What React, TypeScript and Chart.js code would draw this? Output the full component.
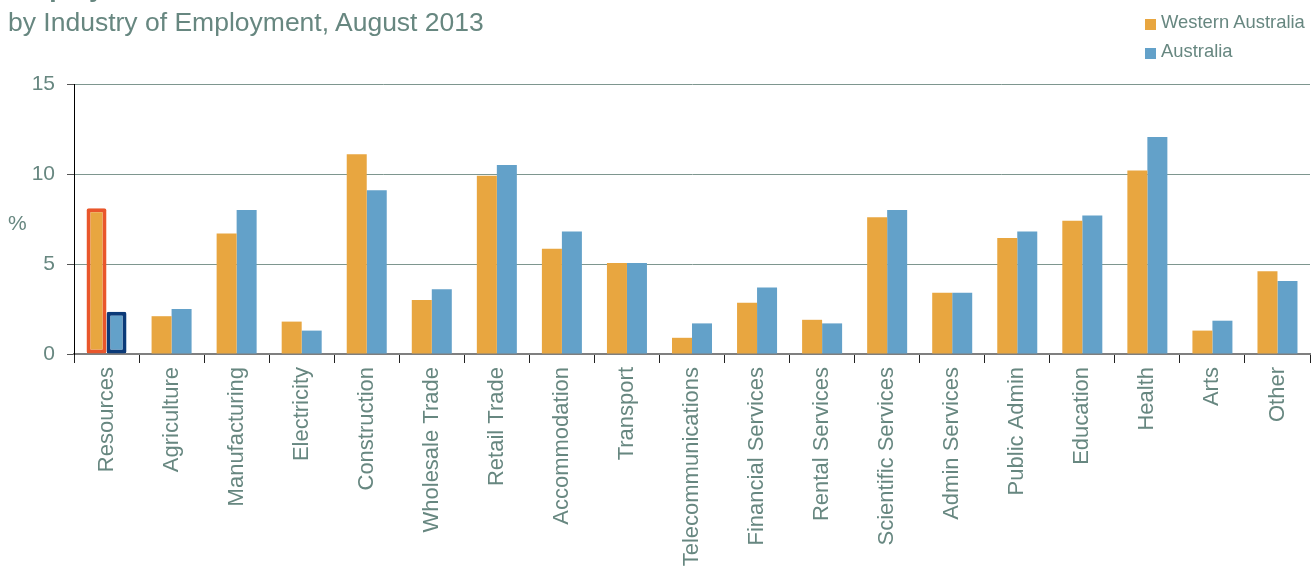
import React, { useEffect, useRef } from "react";
import { Chart, registerables } from "chart.js";

Chart.register(...registerables);

const categories = [
  "Resources", "Agriculture", "Manufacturing", "Electricity", "Construction",
  "Wholesale Trade", "Retail Trade", "Accommodation", "Transport",
  "Telecommunications", "Financial Services", "Rental Services",
  "Scientific Services", "Admin Services", "Public Admin", "Education",
  "Health", "Arts", "Other",
];
const westernAustralia = [8.1, 2.1, 6.7, 1.8, 11.1, 3.0, 9.9, 5.85, 5.05, 0.9, 2.85, 1.9, 7.6, 3.4, 6.45, 7.4, 10.2, 1.3, 4.6];
const australia = [2.35, 2.5, 8.0, 1.3, 9.1, 3.6, 10.5, 6.8, 5.05, 1.7, 3.7, 1.7, 8.0, 3.4, 6.8, 7.7, 12.05, 1.85, 4.05];
const yTicks = [0, 5, 10, 15];

const ORANGE = "#e8a640";
const BLUE = "#63a1c9";
const TEXT = "#678780";
const FONT = "'Liberation Sans', Arial, sans-serif";

export default function App() {
  const ref = useRef<HTMLCanvasElement>(null);
  useEffect(() => {
    if (!ref.current) return;
    const chart = new Chart(ref.current, {
      type: "bar",
      data: {
        labels: categories,
        datasets: [
          {
            label: "Western Australia",
            data: westernAustralia,
            backgroundColor: ORANGE,
            borderColor: westernAustralia.map((_, i) => (i === 0 ? "#e9562b" : ORANGE)),
            borderWidth: westernAustralia.map((_, i) => (i === 0 ? 4 : 0)),
            borderSkipped: false,
            borderRadius: westernAustralia.map((_, i) => (i === 0 ? 2 : 0)),
            categoryPercentage: 0.615,
            barPercentage: 1,
          },
          {
            label: "Australia",
            data: australia,
            backgroundColor: BLUE,
            borderColor: australia.map((_, i) => (i === 0 ? "#0b3a78" : BLUE)),
            borderWidth: australia.map((_, i) => (i === 0 ? 4 : 0)),
            borderSkipped: false,
            borderRadius: australia.map((_, i) => (i === 0 ? 2 : 0)),
            categoryPercentage: 0.615,
            barPercentage: 1,
          },
        ],
      },
      options: {
        animation: false,
        responsive: false,
        layout: { padding: { top: 84, left: 0, right: 5, bottom: 0 } },
        plugins: { legend: { display: false }, tooltip: { enabled: false }, title: { display: false } },
        scales: {
          x: {
            offset: true,
            afterFit: (s: any) => { s.height = 214; },
            grid: { display: true, drawOnChartArea: false, drawTicks: true, tickLength: 9, color: "#222", offset: true },
            border: { color: "#7f7f7f", width: 2 },
            ticks: {
              autoSkip: false, minRotation: 90, maxRotation: 90, padding: 4,
              color: TEXT, font: { family: FONT, size: 22 },
            },
          },
          y: {
            min: 0, max: 15,
            afterFit: (s: any) => { s.width = 74; },
            afterBuildTicks: (s: any) => { s.ticks = yTicks.map((v) => ({ value: v })); },
            grid: { color: "#7e968f", lineWidth: 1, tickLength: 7, tickColor: "#555" },
            border: { color: "#000", width: 1 },
            ticks: { stepSize: 5, padding: 12, color: TEXT, font: { family: FONT, size: 21 } },
          },
        },
      },
    });
    return () => chart.destroy();
  }, []);

  const txt: React.CSSProperties = { position: "absolute", fontFamily: FONT, color: TEXT, whiteSpace: "nowrap" };
  return (
    <div style={{ position: "fixed", left: 0, top: 0, width: 1315, height: 568, background: "#fff", overflow: "hidden" }}>
      <canvas ref={ref} width={1315} height={568} style={{ position: "absolute", left: 0, top: 0, width: 1315, height: 568 }} />
      <div style={{ ...txt, left: 8, top: -25, fontSize: 26.5, lineHeight: "26px", fontWeight: "bold" }}>Employment</div>
      <div style={{ ...txt, left: 8, top: 9, fontSize: 26.5, lineHeight: "26px" }}>by Industry of Employment, August 2013</div>
      <div style={{ ...txt, left: 8, top: 212, fontSize: 21, lineHeight: "21px" }}>%</div>
      <div style={{ position: "absolute", left: 1145, top: 19, width: 11, height: 11, background: ORANGE }} />
      <div style={{ ...txt, left: 1161, top: 13, fontSize: 18.4, lineHeight: "18px" }}>Western Australia</div>
      <div style={{ position: "absolute", left: 1145, top: 48, width: 11, height: 11, background: BLUE }} />
      <div style={{ ...txt, left: 1161, top: 42, fontSize: 18.4, lineHeight: "18px" }}>Australia</div>
    </div>
  );
}
